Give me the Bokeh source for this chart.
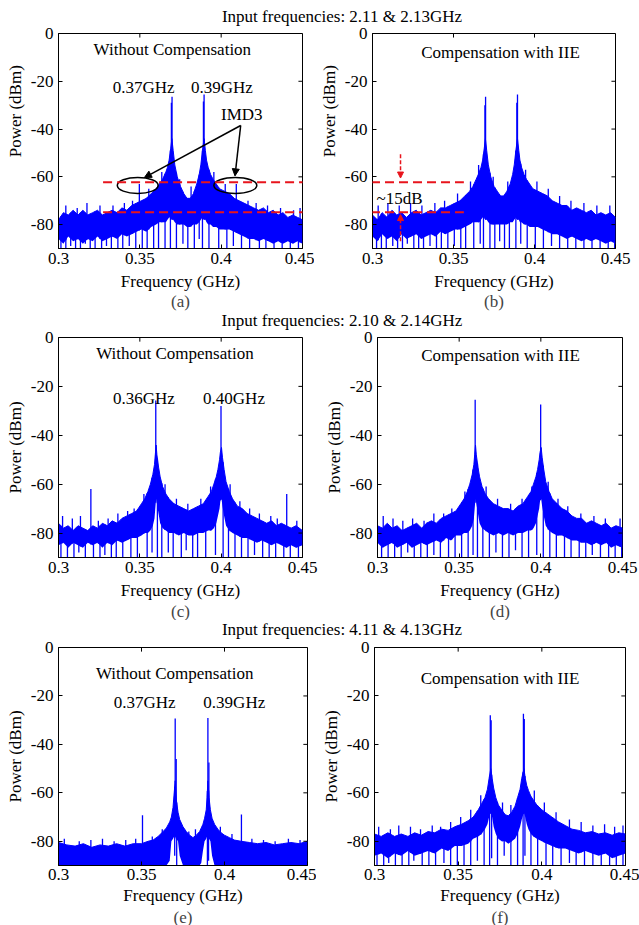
import numpy as np
from bokeh.plotting import figure
from bokeh.models import Range1d, FixedTicker, Label, Title, Arrow, NormalHead, Div
from bokeh.layouts import column, row
from bokeh.embed import file_html
from bokeh.resources import INLINE

FONT = "Liberation Serif"
BLUE = "#0000ff"
RED = "#e8141c"

# ---------------- text ----------------
row_titles = ["Input frequencies: 2.11 & 2.13GHz",
              "Input frequencies: 2.10 & 2.14GHz",
              "Input frequencies: 4.11 & 4.13GHz"]
letters = ["(a)", "(b)", "(c)", "(d)", "(e)", "(f)"]
note_left = "Without Compensation"
note_right = "Compensation with IIE"
x_axis_title = "Frequency (GHz)"
y_axis_title = "Power (dBm)"
x_ticks = [0.3, 0.35, 0.4, 0.45]
x_tick_labels = ["0.3", "0.35", "0.4", "0.45"]
y_ticks = [-80, -60, -40, -20, 0]
y_tick_labels = ["-80", "-60", "-40", "-20", "0"]

# ---------------- panel (a) / (b) ----------------
freq_ab = [0.300, 0.303, 0.306, 0.309, 0.312, 0.315, 0.318, 0.321, 0.324, 0.327,
           0.330, 0.333, 0.336, 0.339, 0.342, 0.345, 0.348, 0.351, 0.354, 0.357,
           0.360, 0.362, 0.364, 0.366, 0.367, 0.368, 0.369, 0.3697, 0.3705, 0.3715,
           0.373, 0.375, 0.377, 0.379, 0.381, 0.383, 0.385, 0.3865, 0.3875, 0.3885,
           0.3895, 0.3903, 0.391, 0.392, 0.3935, 0.395, 0.397, 0.399, 0.402, 0.405,
           0.408, 0.411, 0.414, 0.417, 0.420, 0.423, 0.426, 0.429, 0.432, 0.435,
           0.438, 0.441, 0.444, 0.447, 0.450]
upper_a = [-78, -75, -76, -74, -76, -74, -76, -75, -74, -76,
           -75, -74, -75, -73, -74, -72, -71, -70, -69, -67,
           -65, -63, -61, -58, -56, -53, -48, -44, -49, -55,
           -60, -64, -67, -69, -69, -67, -63, -59, -55, -49,
           -44, -49, -53, -56, -59, -61, -63, -65, -66, -67,
           -69, -70, -71, -72, -73, -74, -73, -75, -74, -76,
           -75, -77, -76, -77, -78]
lower_a = [-86, -88, -85, -87, -86, -88, -86, -87, -85, -87,
           -86, -85, -86, -84, -85, -84, -83, -82, -83, -81,
           -80, -79, -79, -79, -78, -77, -77, -78, -78, -79,
           -80, -80, -80, -81, -81, -80, -80, -79, -78, -77,
           -78, -78, -79, -80, -80, -81, -81, -82, -82, -82,
           -83, -84, -85, -86, -86, -87, -86, -87, -88, -87,
           -88, -87, -88, -87, -88]
spike_x_a = [0.3694, 0.3698, 0.3891, 0.3895, 0.3497, 0.4093,
             0.3045, 0.3115, 0.3175, 0.3255, 0.3335, 0.3405, 0.3455, 0.3555, 0.3635,
             0.3745, 0.3815, 0.3955, 0.4025, 0.4165, 0.4215, 0.4285, 0.4365, 0.4445, 0.4485]
spike_y_a = [-29, -26.5, -28.5, -25.5, -63, -63,
             -72, -73, -71, -72, -72, -71, -70, -65, -58,
             -61, -64, -58, -63, -70, -71, -72, -73, -74, -73]
dip_x_a = [0.3015, 0.3045, 0.3075, 0.3105, 0.3135, 0.3165, 0.3195, 0.3225, 0.3265, 0.3295,
           0.3325, 0.3365, 0.3395, 0.3435, 0.3475, 0.3515, 0.3545, 0.3585, 0.3615, 0.3655,
           0.3688, 0.3725, 0.3765, 0.3795, 0.3835, 0.3865, 0.3885, 0.3925, 0.3985, 0.4035,
           0.4075, 0.4125, 0.4175, 0.4235, 0.4275, 0.4325, 0.4375, 0.4425, 0.4475]
dip_y_a = [-90, -90, -89, -90, -90, -88, -90, -90, -90, -89,
           -90, -90, -90, -89, -90, -90, -90, -90, -90, -90,
           -90, -90, -88, -90, -90, -86, -90, -90, -90, -90,
           -89, -90, -90, -90, -90, -90, -90, -90, -90]

upper_b = [-76, -78, -75, -77, -74, -76, -75, -77, -75, -74,
           -76, -75, -74, -75, -73, -73, -72, -71, -70, -68,
           -66, -64, -61, -58, -56, -53, -48, -44, -49, -55,
           -60, -64, -66, -68, -68, -66, -63, -59, -55, -49,
           -44, -49, -53, -56, -59, -61, -63, -65, -66, -67,
           -68, -70, -71, -72, -72, -74, -73, -74, -75, -74,
           -76, -75, -76, -75, -77]
lower_b = [-85, -87, -84, -86, -85, -87, -84, -86, -85, -84,
           -86, -85, -84, -85, -83, -84, -83, -82, -82, -81,
           -80, -79, -79, -79, -78, -77, -77, -78, -78, -79,
           -80, -80, -80, -80, -80, -80, -79, -79, -78, -77,
           -78, -78, -79, -79, -80, -80, -81, -81, -81, -82,
           -83, -84, -84, -85, -86, -85, -86, -87, -86, -87,
           -86, -87, -88, -87, -88]
spike_x_b = [0.3694, 0.3698, 0.3891, 0.3895,
             0.3035, 0.3095, 0.3165, 0.3235, 0.3305, 0.3385, 0.3445, 0.3525, 0.3605, 0.3655,
             0.3745, 0.3835, 0.3945, 0.4015, 0.4085, 0.4155, 0.4225, 0.4305, 0.4385, 0.4465]
spike_y_b = [-30, -26.5, -29, -25.5,
             -72, -71, -72, -71, -72, -71, -70, -67, -62, -55,
             -60, -62, -57, -62, -65, -68, -70, -71, -72, -72]
dip_x_b = [0.3025, 0.3055, 0.3085, 0.3125, 0.3155, 0.3185, 0.3215, 0.3255, 0.3285, 0.3315,
           0.3355, 0.3395, 0.3425, 0.3465, 0.3505, 0.3545, 0.3575, 0.3625, 0.3665, 0.3685,
           0.3725, 0.3755, 0.3785, 0.3815, 0.3845, 0.3885, 0.3915, 0.3955, 0.4005, 0.4055,
           0.4105, 0.4155, 0.4205, 0.4255, 0.4305, 0.4355, 0.4405, 0.4455, 0.4495]
dip_y_b = [-90, -90, -90, -89, -90, -90, -88, -90, -90, -90,
           -89, -90, -90, -90, -89, -90, -90, -90, -88, -90,
           -90, -90, -87, -90, -90, -90, -88, -90, -90, -90,
           -89, -90, -90, -90, -90, -90, -90, -90, -90]

# ---------------- panel (c) / (d) ----------------
freq_cd = [0.300, 0.303, 0.306, 0.309, 0.312, 0.315, 0.318, 0.321, 0.324, 0.327,
           0.330, 0.333, 0.336, 0.339, 0.342, 0.345, 0.348, 0.351, 0.353, 0.355,
           0.3565, 0.358, 0.359, 0.3595, 0.360, 0.3605, 0.3615, 0.3625, 0.364, 0.366,
           0.368, 0.371, 0.374, 0.377, 0.380, 0.383, 0.386, 0.389, 0.392, 0.394,
           0.3955, 0.397, 0.398, 0.399, 0.3995, 0.4002, 0.4008, 0.4018, 0.403, 0.405,
           0.407, 0.410, 0.413, 0.416, 0.419, 0.422, 0.425, 0.428, 0.431, 0.434,
           0.437, 0.440, 0.443, 0.446, 0.450]
upper_c = [-76, -78, -77, -79, -77, -78, -79, -77, -78, -76,
           -77, -75, -76, -74, -73, -72, -71, -68, -66, -63,
           -60, -56, -52, -48, -44, -48, -53, -57, -61, -64,
           -66, -68, -69, -70, -71, -70, -69, -68, -65, -63,
           -60, -57, -54, -50, -47, -45, -49, -54, -59, -63,
           -66, -69, -70, -72, -73, -74, -75, -76, -75, -77,
           -76, -77, -78, -77, -79]
lower_c = [-85, -84, -86, -84, -85, -86, -84, -85, -84, -86,
           -84, -85, -83, -84, -83, -82, -82, -81, -80, -80,
           -79, -77, -74, -70, -66, -68, -72, -76, -78, -79,
           -80, -80, -81, -80, -81, -81, -80, -80, -79, -79,
           -78, -76, -73, -70, -67, -66, -69, -73, -77, -79,
           -80, -81, -82, -82, -83, -84, -83, -84, -85, -84,
           -85, -86, -85, -86, -85]
spike_x_c = [0.3598, 0.3999, 0.3199, 0.4403,
             0.3025, 0.3085, 0.3135, 0.3245, 0.3305, 0.3365, 0.3425, 0.3465, 0.3525, 0.3655,
             0.3725, 0.3795, 0.3875, 0.3935, 0.4055, 0.4115, 0.4175, 0.4235, 0.4305, 0.4345, 0.4465]
spike_y_c = [-25.8, -28, -62, -64,
             -73, -74, -73, -75, -74, -72, -71, -70, -64, -60,
             -66, -68, -66, -61, -60, -67, -70, -72, -73, -74, -75]
dip_x_c = [0.3015, 0.3055, 0.3095, 0.3125, 0.3165, 0.3215, 0.3255, 0.3285, 0.3325, 0.3355,
           0.3395, 0.3445, 0.3485, 0.3545, 0.3575, 0.3608, 0.3635, 0.3675, 0.3705, 0.3755,
           0.3785, 0.3825, 0.3855, 0.3905, 0.3965, 0.4012, 0.4045, 0.4085, 0.4125, 0.4165,
           0.4205, 0.4255, 0.4295, 0.4335, 0.4385, 0.4425, 0.4475]
dip_y_c = [-90, -90, -90, -88, -90, -90, -90, -89, -90, -90,
           -90, -90, -90, -90, -88, -90, -90, -88, -90, -90,
           -87, -90, -90, -90, -89, -90, -90, -90, -90, -90,
           -89, -90, -90, -90, -90, -90, -90]

upper_d = [-77, -78, -76, -78, -77, -79, -78, -77, -76, -78,
           -76, -75, -76, -74, -73, -72, -71, -68, -66, -63,
           -60, -56, -52, -48, -44, -48, -53, -57, -61, -64,
           -66, -68, -69, -70, -70, -71, -69, -68, -65, -63,
           -60, -57, -54, -50, -47, -45, -49, -54, -59, -63,
           -66, -68, -70, -71, -73, -74, -74, -76, -75, -76,
           -77, -76, -78, -77, -78]
lower_d = [-84, -86, -85, -84, -86, -85, -84, -86, -85, -84,
           -85, -84, -83, -84, -82, -83, -81, -81, -80, -80,
           -79, -77, -74, -70, -66, -68, -72, -76, -78, -79,
           -80, -81, -80, -81, -80, -81, -80, -80, -79, -79,
           -78, -76, -73, -70, -67, -66, -69, -73, -77, -79,
           -80, -81, -81, -82, -83, -83, -84, -84, -85, -84,
           -85, -84, -86, -85, -86]
spike_x_d = [0.3598, 0.3999,
             0.3035, 0.3095, 0.3155, 0.3215, 0.3285, 0.3345, 0.3405, 0.3455, 0.3535, 0.3665,
             0.3735, 0.3815, 0.3885, 0.3945, 0.4045, 0.4105, 0.4165, 0.4245, 0.4325, 0.4395, 0.4485]
spike_y_d = [-25.5, -27.4,
             -73, -74, -75, -74, -75, -72, -72, -70, -63, -61,
             -66, -68, -66, -61, -59, -66, -69, -72, -73, -74, -74]
dip_x_d = [0.3025, 0.3065, 0.3105, 0.3145, 0.3185, 0.3225, 0.3265, 0.3305, 0.3345, 0.3385,
           0.3435, 0.3475, 0.3515, 0.3555, 0.3585, 0.3612, 0.3645, 0.3685, 0.3725, 0.3765,
           0.3805, 0.3845, 0.3885, 0.3925, 0.3975, 0.4015, 0.4055, 0.4095, 0.4145, 0.4185,
           0.4235, 0.4275, 0.4315, 0.4365, 0.4415, 0.4455, 0.4495]
dip_y_d = [-90, -90, -90, -90, -88, -90, -90, -90, -89, -90,
           -90, -90, -90, -90, -89, -90, -90, -90, -88, -90,
           -90, -87, -90, -90, -89, -90, -90, -90, -90, -90,
           -90, -90, -89, -90, -90, -90, -90]

# ---------------- panel (e) ----------------
freq_e = [0.300, 0.305, 0.310, 0.315, 0.320, 0.325, 0.330, 0.335, 0.340, 0.345,
          0.350, 0.354, 0.357, 0.360, 0.363, 0.365, 0.367, 0.368, 0.369, 0.3697,
          0.3703, 0.371, 0.372, 0.373, 0.375, 0.377, 0.379, 0.381, 0.383, 0.385,
          0.386, 0.387, 0.388, 0.389, 0.3895, 0.3900, 0.3907, 0.3915, 0.3925, 0.394,
          0.396, 0.398, 0.400, 0.403, 0.406, 0.410, 0.415, 0.420, 0.425, 0.430,
          0.435, 0.440, 0.445, 0.450]
upper_e = [-80.5, -81.5, -82, -81, -82.5, -81.5, -82, -81, -82, -81,
           -81, -80, -79.5, -78, -76, -74.5, -72, -70, -66, -60,
           -55, -63, -68, -71, -74, -76, -77.5, -78.5, -77.5, -76,
           -74.5, -73, -70.5, -67, -62, -55, -62, -67, -70.5, -73,
           -75, -76.5, -77.5, -78.5, -79.5, -80, -80.5, -81, -80.5, -81.5,
           -81, -80.5, -81, -80]
lower_e = [-90, -90, -90, -90, -90, -90, -90, -90, -90, -90,
           -90, -90, -90, -90, -90, -90, -88, -80, -79, -78,
           -78, -79, -80, -86, -90, -90, -90, -90, -90, -90,
           -89, -84, -80, -79, -78, -78, -79, -80, -86, -90,
           -90, -90, -90, -90, -90, -90, -90, -90, -90, -90,
           -90, -90, -90, -90]
spike_x_e = [0.3703, 0.3709, 0.3900, 0.3906, 0.3506, 0.4102,
             0.3035, 0.3125, 0.3195, 0.3265, 0.3335, 0.3405, 0.3465, 0.3565, 0.3625,
             0.3785, 0.3825, 0.3975, 0.4045, 0.4165, 0.4235, 0.4305, 0.4385, 0.4455]
spike_y_e = [-29.3, -46, -29.1, -47.5, -69.3, -68.9,
             -79, -80, -79.5, -79, -80, -79.5, -79, -78, -75,
             -76, -75, -74, -77, -79, -79.5, -80, -79, -79.5]
dip_x_e = [0.3700, 0.3712, 0.3897, 0.3904]
dip_y_e = [-86, -90, -90, -88]

# ---------------- panel (f) ----------------
freq_f = [0.300, 0.304, 0.308, 0.312, 0.316, 0.320, 0.324, 0.328, 0.332, 0.336,
          0.340, 0.344, 0.348, 0.352, 0.356, 0.359, 0.362, 0.364, 0.366, 0.3675,
          0.3685, 0.3695, 0.3703, 0.3712, 0.3725, 0.374, 0.376, 0.378, 0.380, 0.382,
          0.384, 0.3855, 0.387, 0.388, 0.3893, 0.3901, 0.391, 0.392, 0.3935, 0.395,
          0.397, 0.400, 0.403, 0.406, 0.410, 0.414, 0.418, 0.422, 0.426, 0.430,
          0.434, 0.438, 0.442, 0.446, 0.450]
upper_f = [-77, -78, -76.5, -78, -77, -78, -76.5, -77.5, -76, -76.5,
           -75, -75.5, -74, -73, -71.5, -70, -67, -64.5, -62, -58.5,
           -54, -50, -54, -58, -62, -65, -67, -69, -69.5, -68,
           -65.5, -62, -58.5, -54, -50, -54, -57, -59, -61.5, -63,
           -65, -67, -68.5, -70, -72, -73.5, -75, -75.5, -76.5, -76,
           -77, -76.5, -77.5, -76.5, -77]
lower_f = [-86, -85, -87, -85, -86, -84, -86, -85, -84, -85,
           -83, -84, -82, -82, -81, -79, -78, -77, -75, -73,
           -70, -68, -70, -74, -77, -79, -80, -80, -81, -80,
           -79, -77, -74, -71, -68, -70, -73, -75, -77, -78,
           -79, -80, -81, -82, -83, -83, -84, -85, -84, -85,
           -86, -85, -87, -86, -85]
spike_x_f = [0.3692, 0.3697, 0.3890, 0.3895,
             0.3025, 0.3095, 0.3145, 0.3215, 0.3275, 0.3345, 0.3395, 0.3455, 0.3515, 0.3575, 0.3635,
             0.3765, 0.3815, 0.3955, 0.4015, 0.4085, 0.4165, 0.4235, 0.4305, 0.4375, 0.4435, 0.4485]
spike_y_f = [-28, -30, -27.3, -29.5,
             -74, -75, -73.5, -74, -75, -73.5, -74, -72, -70, -67, -61,
             -64, -65, -59, -64, -68, -71, -72, -73.5, -73, -74, -73.5]
dip_x_f = [0.3015, 0.3055, 0.3085, 0.3125, 0.3165, 0.3205, 0.3235, 0.3285, 0.3325, 0.3365,
           0.3415, 0.3455, 0.3495, 0.3535, 0.3575, 0.3615, 0.3655, 0.3688, 0.3700, 0.3735,
           0.3775, 0.3815, 0.3855, 0.3888, 0.3899, 0.3935, 0.3975, 0.4025, 0.4065, 0.4115,
           0.4165, 0.4205, 0.4255, 0.4305, 0.4355, 0.4405, 0.4445, 0.4485]
dip_y_f = [-90, -90, -89, -90, -90, -90, -88, -90, -90, -90,
           -89, -90, -90, -90, -90, -88, -90, -90, -87, -90,
           -86, -90, -90, -90, -86, -90, -90, -90, -90, -90,
           -89, -90, -90, -90, -90, -90, -90, -90]

X_MIN, X_MAX, Y_MIN, Y_MAX = 0.3, 0.45, -90, 0


def panel(freq, upper, lower, sx, sy, dx, dy, letter, width, height, br, bb,
          tick_so, lab_so, title_so, ylabel):
    p = figure(width=width, height=height, x_range=Range1d(X_MIN, X_MAX), y_range=Range1d(Y_MIN, Y_MAX),
               output_backend="svg", toolbar_location=None,
               min_border_left=58, min_border_right=br, min_border_top=10, min_border_bottom=bb)
    p.xgrid.visible = False
    p.ygrid.visible = False
    p.outline_line_color = "black"
    p.outline_line_width = 1
    p.background_fill_color = "white"
    p.border_fill_color = None

    f = np.asarray(freq, float)
    up = np.asarray(upper, float)
    lo = np.asarray(lower, float)
    p.varea(x=f, y1=lo, y2=up, fill_color=BLUE, fill_alpha=1.0)
    p.line(f, up, line_color=BLUE, line_width=1)
    sxa = np.asarray(sx, float)
    p.segment(x0=sxa, y0=np.interp(sxa, f, lo), x1=sxa, y1=sy, line_color=BLUE, line_width=1.3)
    dxa = np.asarray(dx, float)
    p.segment(x0=dxa, y0=np.interp(dxa, f, up), x1=dxa, y1=dy, line_color=BLUE, line_width=1.3)

    xa = p.xaxis[0]
    ya = p.yaxis[0]
    xa.ticker = FixedTicker(ticks=x_ticks)
    xa.major_label_overrides = dict(zip(x_ticks, x_tick_labels))
    ya.ticker = FixedTicker(ticks=y_ticks)
    ya.major_label_overrides = dict(zip(y_ticks, y_tick_labels))
    xa.axis_label = x_axis_title
    ya.axis_label = ylabel
    for ax in (xa, ya):
        ax.major_tick_in = 4
        ax.major_tick_out = 0
        ax.minor_tick_line_color = None
        ax.axis_line_color = "black"
        ax.major_tick_line_color = "black"
        ax.major_label_text_font = FONT
        ax.major_label_text_font_size = "17px"
        ax.major_label_text_color = "black"
        ax.axis_label_text_font = FONT
        ax.axis_label_text_font_size = "17px"
        ax.axis_label_text_font_style = "normal"
        ax.axis_label_text_color = "black"
    xa.major_label_standoff = tick_so
    xa.axis_label_standoff = lab_so
    ya.major_label_standoff = 5
    ya.axis_label_standoff = 3
    # inward tick marks on the top and right edges of the box
    tick_dy = 1.7
    tick_dx = 0.0025
    p.segment(x0=x_ticks, y0=[Y_MAX] * len(x_ticks), x1=x_ticks, y1=[Y_MAX - tick_dy] * len(x_ticks),
              line_color="black", line_width=1)
    p.segment(x0=[X_MAX] * len(y_ticks), y0=y_ticks, x1=[X_MAX - tick_dx] * len(y_ticks), y1=y_ticks,
              line_color="black", line_width=1)
    try:
        t = Title(text=letter, align="center", text_font=FONT, text_font_size="17px",
                  text_font_style="normal", standoff=title_so)
    except Exception:
        t = Title(text=letter, align="center", text_font=FONT, text_font_size="17px",
                  text_font_style="normal", standoff=0)
    p.add_layout(t, "below")
    return p


def label(p, x, y, text):
    p.add_layout(Label(x=x, y=y, text=text, text_font=FONT, text_font_size="17px",
                       text_align="center", text_baseline="middle", text_color="black"))


def title_div(text, height, pad_top):
    html = ('<div style="width:639px;box-sizing:border-box;padding-left:45px;padding-top:%dpx;'
            'text-align:center;font-family:\'Liberation Serif\';font-size:17px;color:black;'
            'line-height:18px;white-space:nowrap;margin:0">%s</div>'
            % (pad_top, text.replace("&", "&amp;")))
    return Div(text=html, width=639, height=height, margin=(0, 0, 0, 0))


# in the first row the y-axis titles sit higher than the frame centre
y_title_raised = "\u00a0" * 14 + y_axis_title

pa = panel(freq_ab, upper_a, lower_a, spike_x_a, spike_y_a, dip_x_a, dip_y_a, letters[0],
           314, 288, 12, 63, 4, 5, -7, y_title_raised)
pb = panel(freq_ab, upper_b, lower_b, spike_x_b, spike_y_b, dip_x_b, dip_y_b, letters[1],
           325, 288, 24, 63, 4, 5, -7, y_title_raised)
pc = panel(freq_cd, upper_c, lower_c, spike_x_c, spike_y_c, dip_x_c, dip_y_c, letters[2],
           319, 293, 17, 63, 4, 5, -6, y_axis_title)
pd = panel(freq_cd, upper_d, lower_d, spike_x_d, spike_y_d, dip_x_d, dip_y_d, letters[3],
           320, 293, 17, 63, 4, 5, -6, y_axis_title)
pe = panel(freq_e, upper_e, lower_e, spike_x_e, spike_y_e, dip_x_e, dip_y_e, letters[4],
           316, 288, 9, 60, 3, 3, -4, y_axis_title)
pf = panel(freq_f, upper_f, lower_f, spike_x_f, spike_y_f, dip_x_f, dip_y_f, letters[5],
           323, 288, 14, 60, 3, 3, -4, y_axis_title)

# annotations (a)
label(pa, 0.370, -6.5, note_left)
label(pa, 0.3524, -22.8, "0.37GHz")
label(pa, 0.4004, -22.8, "0.39GHz")
label(pa, 0.4127, -33.7, "IMD3")
pa.ellipse(x=[0.3487, 0.4087], y=[-63.6, -63.6], width=[0.0251, 0.0264], height=[6.7, 6.7],
           fill_color=None, line_color="black", line_width=1.5)
for xe, ye in ((0.3528, -60.3), (0.4085, -59.6)):
    pa.add_layout(Arrow(end=NormalHead(size=7, fill_color="black", line_color="black"),
                        x_start=0.412, y_start=-38.5, x_end=xe, y_end=ye,
                        line_color="black", line_width=1.5))
for yl in (-62.3, -74.8):
    pa.add_layout(Arrow(end=None, x_start=0.3274, y_start=yl, x_end=0.4574, y_end=yl,
                        line_color=RED, line_width=2, line_dash="9 5"))
    pb.add_layout(Arrow(end=None, x_start=0.2645, y_start=yl, x_end=0.3564, y_end=yl,
                        line_color=RED, line_width=2, line_dash="9 5"))

# annotations (b)
label(pb, 0.379, -8.1, note_right)
label(pb, 0.3167, -69.2, "~15dB")
pb.add_layout(Arrow(end=NormalHead(size=6, fill_color=RED, line_color=RED),
                    x_start=0.3173, y_start=-50.5, x_end=0.3173, y_end=-60.5,
                    line_color=RED, line_width=1.5, line_dash="4 2"))
pb.add_layout(Arrow(end=NormalHead(size=6, fill_color=RED, line_color=RED),
                    x_start=0.3173, y_start=-87, x_end=0.3173, y_end=-75.8,
                    line_color=RED, line_width=1.5, line_dash="4 2"))

# annotations (c), (d)
label(pc, 0.3716, -6.5, note_left)
label(pc, 0.3525, -24.8, "0.36GHz")
label(pc, 0.4079, -24.8, "0.40GHz")
label(pd, 0.3753, -7.4, note_right)

# annotations (e), (f)
label(pe, 0.370, -10.6, note_left)
label(pe, 0.3519, -22.5, "0.37GHz")
label(pe, 0.4059, -22.5, "0.39GHz")
label(pf, 0.375, -13, note_right)

layout = column(title_div(row_titles[0], 23, 8), row(pa, pb),
                title_div(row_titles[1], 16, 1), row(pc, pd),
                title_div(row_titles[2], 17, 1), row(pe, pf))

open("out.html", "w").write(file_html(layout, INLINE))
